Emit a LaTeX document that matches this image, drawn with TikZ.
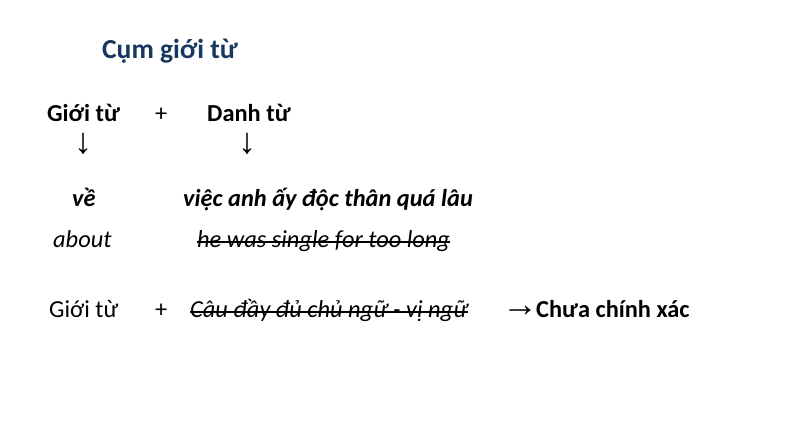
\documentclass[tikz,border=0pt]{standalone}
\usepackage{fontspec}
\setmainfont{Carlito}
\newfontfamily\arrowfont{Liberation Serif}
\definecolor{navy}{HTML}{17375E}
\newcommand\fsz{\fontsize{24.4bp}{28bp}\selectfont}
\begin{document}
\begin{tikzpicture}[x=1bp,y=-1bp,
  txt/.style={inner sep=0pt, anchor=base west, font=\fsz},
  bx/.style={txt, font=\fsz\bfseries},
  it/.style={txt, font=\fsz\itshape},
  bit/.style={txt, font=\fsz\bfseries\itshape},
  arr/.style={inner sep=0pt, anchor=center, font=\fontsize{36bp}{40bp}\selectfont\arrowfont},
  strike/.style={line width=1.7bp, black}]
\useasboundingbox[fill=white] (0,0) rectangle (801,446);
\node[txt, font=\fontsize{27.5bp}{32bp}\selectfont\bfseries, text=navy] (title) at (102,59) {Cụm giới từ};
\node[bx] (gt1) at (47,122) {Giới từ};
\node[txt] (plus1) at (155,122) {+};
\node[bx] (dt) at (207,122) {Danh từ};
\node[arr] (a1) at (83,144) {↓};
\node[arr] (a2) at (247,144) {↓};
\node[bit] (ve) at (72,207) {về};
\node[bit] (viec) at (183,207) {việc anh ấy độc thân quá lâu};
\node[it] (about) at (53,248) {about};
\node[it] (he) at (197,248) {he was single for too long};
\draw[strike] ([yshift=6bp]he.base west) -- ([yshift=6bp]he.base east);
\node[txt] (gt2) at (49,318) {Giới từ};
\node[txt] (plus2) at (155,318) {+};
\node[it] (cau) at (190,318) {Câu đầy đủ chủ ngữ - vị ngữ};
\draw[strike] ([yshift=6bp]cau.base west) -- ([yshift=6bp]cau.base east);
\node[arr] (a3) at (520,311) {→};
\node[bx] (cx) at (536,318) {Chưa chính xác};
\end{tikzpicture}
\end{document}
